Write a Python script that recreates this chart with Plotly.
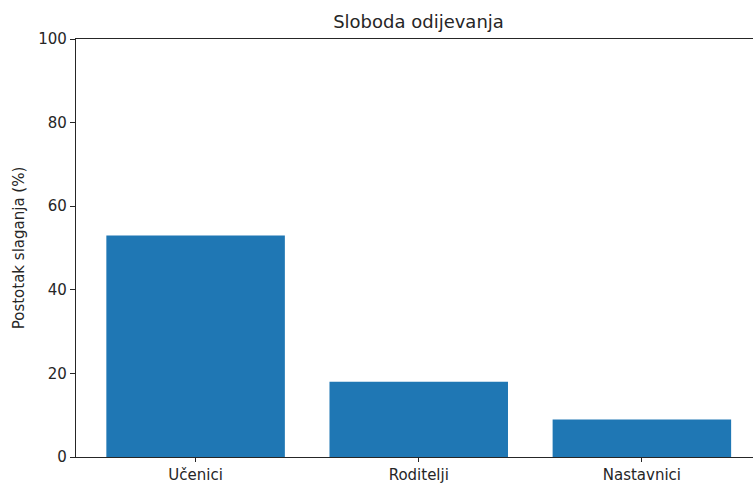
import plotly.graph_objects as go

categories = ["Učenici", "Roditelji", "Nastavnici"]
values = [53, 18, 9]
y_ticks = [0, 20, 40, 60, 80, 100]

W, H = 753, 484
L, T, B = 76, 39, 27

fig = go.Figure(go.Bar(
    x=list(range(len(categories))), y=values,
    width=0.8, marker=dict(color="#1f77b4", line=dict(width=0)),
))

font = "DejaVu Sans"
fig.update_layout(
    width=W, height=H,
    margin=dict(l=L, r=0, t=T, b=B, pad=0, autoexpand=False),
    plot_bgcolor="white", paper_bgcolor="white",
    font=dict(family=font, size=15, color="#262626"),
    showlegend=False,
    title=dict(text="Sloboda odijevanja", font=dict(family=font, size=18, color="#262626"),
               xref="container", x=418.5 / W, xanchor="center",
               yref="container", y=1 - 22 / H, yanchor="middle", automargin=False),
    xaxis=dict(range=[-0.536, 2.498], tickmode="array", automargin=False,
               tickvals=list(range(len(categories))), ticktext=categories,
               showline=True, linecolor="#262626", linewidth=1.2, mirror=True,
               ticks="outside", ticklen=4, tickcolor="#262626", tickwidth=1,
               showgrid=False, zeroline=False),
    yaxis=dict(range=[0, 100], tickmode="array", tickvals=y_ticks, automargin=False,
               ticktext=[str(v) for v in y_ticks],
               showline=True, linecolor="#262626", linewidth=1.2,
               ticks="outside", ticklen=5, tickcolor="#262626", tickwidth=1,
               showgrid=False, zeroline=False,
               title=dict(text="Postotak slaganja (%)", font=dict(family=font, size=15), standoff=10)),
)

fig.write_html("out.html", config={"displayModeBar": False},
               post_script="document.body.style.margin='0';document.body.style.overflow='hidden';")
